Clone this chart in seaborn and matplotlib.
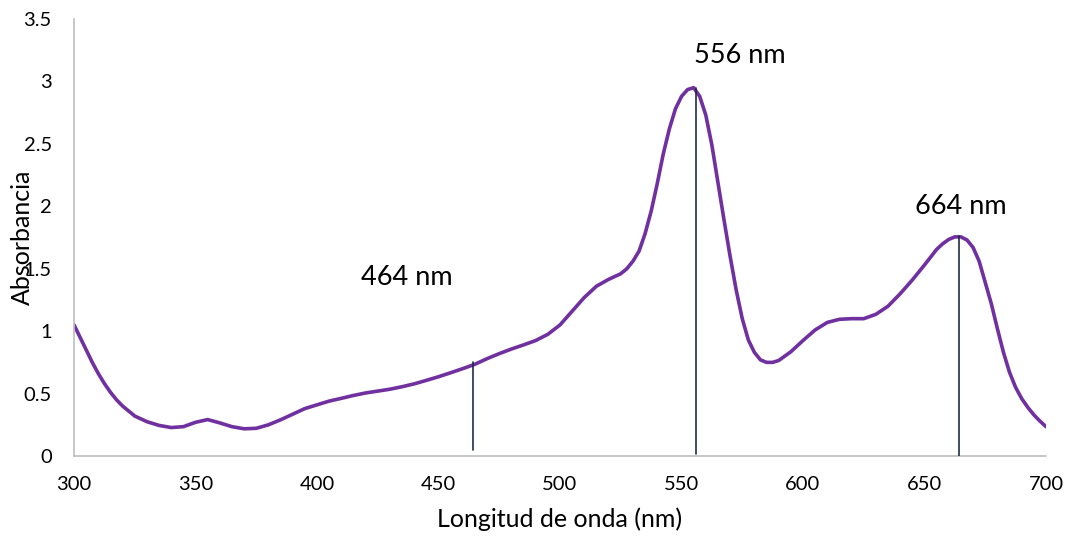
import matplotlib
matplotlib.use("Agg")
import matplotlib.pyplot as plt
import seaborn as sns
import pandas as pd

# Absorption spectrum (finer sampling across the steep bands)
wavelength = [
    300, 302.5, 305, 307.5, 310, 312.5, 315, 317.5, 320, 325,
    330, 335, 340, 345, 350, 355, 360, 365, 370, 375,
    380, 385, 390, 395, 400, 405, 410, 415, 420, 425,
    430, 435, 440, 445, 450, 455, 460, 465, 470, 475,
    480, 485, 490, 495, 500, 505, 510, 515, 520, 525,
    527.5, 530, 532.5, 535, 537.5, 540, 542.5, 545, 547.5, 550,
    552.5, 555, 557.5, 560, 562.5, 565, 567.5, 570, 572.5, 575,
    577.5, 580, 582.5, 585, 587.5, 590, 595, 600, 605, 610,
    615, 620, 625, 630, 635, 640, 645, 650, 655, 657.5,
    660, 662.5, 665, 667.5, 670, 672.5, 675, 677.5, 680, 682.5,
    685, 687.5, 690, 692.5, 695, 697.5, 700,
]
absorbance = [
    1.05, 0.95, 0.85, 0.75, 0.66, 0.58, 0.51, 0.45, 0.40, 0.32,
    0.275, 0.245, 0.228, 0.235, 0.27, 0.292, 0.265, 0.235, 0.218, 0.222,
    0.25, 0.29, 0.335, 0.38, 0.41, 0.44, 0.462, 0.485, 0.505, 0.52,
    0.535, 0.555, 0.578, 0.606, 0.635, 0.667, 0.70, 0.735, 0.78, 0.82,
    0.857, 0.89, 0.925, 0.975, 1.05, 1.16, 1.27, 1.36, 1.415, 1.46,
    1.50, 1.56, 1.64, 1.78, 1.96, 2.18, 2.42, 2.62, 2.78, 2.88,
    2.935, 2.95, 2.88, 2.73, 2.49, 2.19, 1.89, 1.60, 1.33, 1.10,
    0.93, 0.83, 0.77, 0.75, 0.75, 0.765, 0.835, 0.925, 1.01, 1.07,
    1.095, 1.10, 1.10, 1.135, 1.20, 1.30, 1.41, 1.53, 1.655, 1.70,
    1.735, 1.755, 1.755, 1.73, 1.67, 1.56, 1.39, 1.22, 1.02, 0.83,
    0.67, 0.55, 0.46, 0.39, 0.33, 0.28, 0.235,
]

# Marked bands: position, top and bottom of the drop line, label anchor
peak_nm = [464, 556, 664]
peak_top = [0.75, 2.95, 1.76]
peak_bottom = [0.05, 0.02, 0.0]
peak_labels = ["464 nm", "556 nm", "664 nm"]
label_x = [437, 574, 665]
label_y = [1.43, 3.21, 2.0]

x_ticks = [300, 350, 400, 450, 500, 550, 600, 650, 700]
y_ticks = [0, 0.5, 1, 1.5, 2, 2.5, 3, 3.5]
y_tick_labels = ["0", "0.5", "1", "1.5", "2", "2.5", "3", "3.5"]

sns.set_theme(style="white")
plt.rcParams["font.family"] = ["Lato", "DejaVu Sans"]

df = pd.DataFrame({"Longitud de onda (nm)": wavelength, "Absorbancia": absorbance})

fig = plt.figure(figsize=(10.67, 5.37), dpi=100)
ax = fig.add_axes([0.0694, 0.1508, 0.9109, 0.8138])

sns.lineplot(data=df, x="Longitud de onda (nm)", y="Absorbancia", ax=ax,
             color="#7030A0", linewidth=2.6)

for xp, top, bot in zip(peak_nm, peak_top, peak_bottom):
    ax.plot([xp, xp], [bot, top], color="#1F2D46", linewidth=1.2, zorder=3)

for txt, tx, ty in zip(peak_labels, label_x, label_y):
    ax.text(tx, ty, txt, ha="center", va="center", fontsize=19.5, color="black")

ax.set_xlim(300, 700)
ax.set_ylim(0, 3.5)
ax.set_xticks(x_ticks)
ax.set_yticks(y_ticks)
ax.set_yticklabels(y_tick_labels)

for side in ["top", "right"]:
    ax.spines[side].set_visible(False)
for side in ["left", "bottom"]:
    ax.spines[side].set_color("#BFBFBF")
    ax.spines[side].set_linewidth(1.2)

ax.tick_params(axis="both", which="major", direction="out", length=5,
               width=1.2, color="#BFBFBF", labelsize=14.5, labelcolor="black")
ax.tick_params(axis="x", pad=9.5)
ax.tick_params(axis="y", pad=11)

ax.set_xlabel("Longitud de onda (nm)", fontsize=18, color="black", labelpad=10)
ax.set_ylabel("Absorbancia", fontsize=18, color="black")
ax.yaxis.set_label_coords(-0.041, 0.5)
ax.grid(False)

fig.savefig("out.png", dpi=100)
